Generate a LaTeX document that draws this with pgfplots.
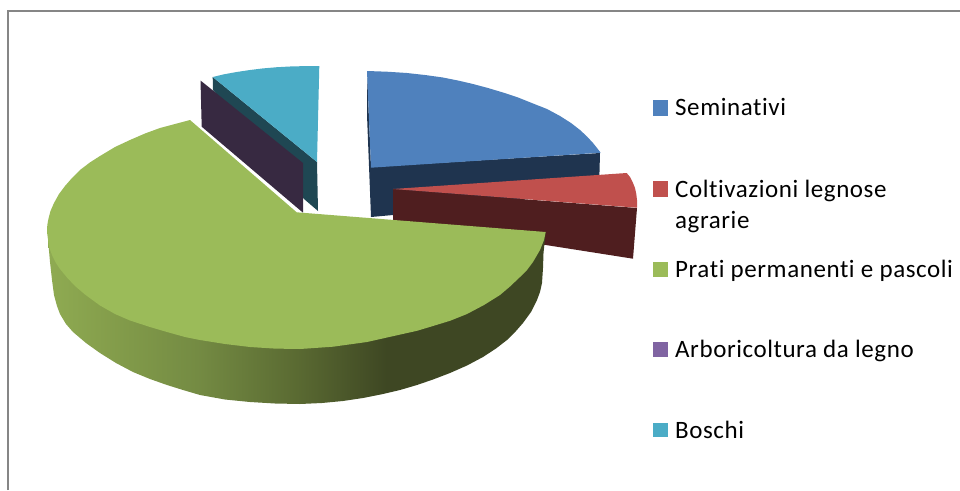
\documentclass[border=0pt]{standalone}
\usepackage{fontspec}
\setmainfont[LetterSpace=2.3,Ligatures=NoCommon]{Carlito}
\usepackage{pgfplots}
\pgfplotsset{compat=1.18}
\definecolor{cblue}{HTML}{4F81BD}
\definecolor{cblued}{HTML}{1F344F}
\definecolor{cred}{HTML}{C0504D}
\definecolor{credd}{HTML}{4F1E1F}
\definecolor{cgreen}{HTML}{9BBB59}
\definecolor{cpurple}{HTML}{8064A2}
\definecolor{cpurpled}{HTML}{372941}
\definecolor{cteal}{HTML}{4BACC6}
\definecolor{cteald}{HTML}{1F4753}
\definecolor{cframe}{HTML}{868686}
\definecolor{gs0}{HTML}{8FAB52}
\definecolor{gs1}{HTML}{86A04C}
\definecolor{gs2}{HTML}{748B43}
\definecolor{gs3}{HTML}{5A6A32}
\definecolor{gs4}{HTML}{3E4723}
\pgfdeclarehorizontalshading{greenside}{100bp}{
  color(0bp)=(gs0);
  color(25bp)=(gs0);
  color(30bp)=(gs1);
  color(40bp)=(gs2);
  color(50bp)=(gs3);
  color(59bp)=(gs4);
  color(100bp)=(gs4)}
\begin{document}
\begin{tikzpicture}
\begin{axis}[
  scale only axis, width=960pt, height=490pt,
  xmin=0, xmax=960, ymin=0, ymax=490, y dir=reverse,
  hide axis, clip=true]
% page extent
\addplot[draw=none] coordinates {(0,0) (960,490)};
% frame
\addplot[cframe, line width=2pt] coordinates {(8,490) (8,11) (960,11)};
% Boschi
\addplot[fill=cteald, draw=none] coordinates {(212.7,77) (317,162) (318,211) (304,199) (213,90)};
\addplot[fill=cteal, draw=none] coordinates {(212.7,77) (224,74.3) (236.7,72) (250,70) (263,68.4) (277,67.2) (290,66.5) (305,66.1) (319.3,66) (317,162)};
% Arboricoltura
\addplot[fill=cpurpled, draw=none] coordinates {(200.5,80.5) (303,163) (303,212.7) (201.7,126.7)};
% Seminativi
\addplot[fill=cblued, draw=none] coordinates {(367,72) (371,167) (600,153) (599,190) (393,215) (371,217) (367,115)};
\addplot[fill=cblue, draw=none] coordinates {(367,71) (387,71.7) (407,73) (425,75) (443,77.5) (458,80.5) (473,84) (488,88) (503,92.5) (518,97.5) (533,103.5) (547,109) (560,116) (571,123) (580,130) (587,136.5) (593,143) (597,148) (600.7,152.7) (371,167.7)};
% Coltivazioni
\addplot[fill=credd, draw=none] coordinates {(393,189) (637,208) (633,258.7) (393,221)};
\addplot[fill=cred, draw=none] coordinates {(393,189) (626.7,173) (630,177) (633,183) (635,188) (636.3,194) (637,200) (637,207.7)};
% Prati: side
\addplot[shade, shading=greenside, draw=none] coordinates {(48,232) (48.5,245) (50,262) (52,280) (54,295) (57,306) (60,314) (66,324) (73,332) (86,343) (100,353) (116,363) (133,372) (150,379) (167,385) (183,390) (200,395) (225,399.5) (250,402) (275,403.5) (300,404) (322,403) (343,401) (363,398) (383,394) (400,390) (417,385) (433,379.5) (450,373) (467,365.5) (483,357) (496,348.5) (507,340) (516,331) (523,323) (531,312) (537,300) (540,292) (542,283) (543,268) (543.5,253) (545.7,232)};
% Prati: top
\addplot[fill=cgreen, draw=none] coordinates {(296.7,212.3) (190,120) (175,124) (160,128) (145,133.5) (130,140) (115,147) (100,156) (90,162.4) (80,170) (72,178) (65,186) (59,194) (54,203) (50.5,211) (48.5,218.5) (47.3,225) (47,232) (49,246.7) (52,255) (56,263) (60,269) (67,277.5) (75,286) (85,294.5) (100,305.5) (115,314) (130,320.5) (150,327) (167,332) (185,337) (200,340) (225,344) (250,347) (275,348.6) (300,349) (333,346.7) (367,342) (400,334.6) (417,330.8) (433,326) (450,320.8) (467,314) (484,305) (500,295) (510,286.5) (520,277) (527,270) (533,262) (540,250) (544,240) (545.7,232)};
% legend
\addplot[fill=cblue, draw=none] coordinates {(653,100) (668,100) (668,116) (653,116)};
\addplot[fill=cred, draw=none] coordinates {(653,181) (668,181) (668,197) (653,197)};
\addplot[fill=cgreen, draw=none] coordinates {(653,262) (668,262) (668,277) (653,277)};
\addplot[fill=cpurple, draw=none] coordinates {(653,342) (668,342) (668,357) (653,357)};
\addplot[fill=cteal, draw=none] coordinates {(653,423) (668,423) (668,437) (653,437)};
\node[anchor=base west, inner sep=0pt, font=\fontsize{25}{25}\selectfont] at (axis cs:675,115) {Seminativi};
\node[anchor=base west, inner sep=0pt, font=\fontsize{25}{25}\selectfont] at (axis cs:675,197) {Coltivazioni legnose};
\node[anchor=base west, inner sep=0pt, font=\fontsize{25}{25}\selectfont] at (axis cs:675,228) {agrarie};
\node[anchor=base west, inner sep=0pt, font=\fontsize{25}{25}\selectfont] at (axis cs:675,277) {Prati permanenti e pascoli};
\node[anchor=base west, inner sep=0pt, font=\fontsize{25}{25}\selectfont] at (axis cs:675,357) {Arboricoltura da legno};
\node[anchor=base west, inner sep=0pt, font=\fontsize{25}{25}\selectfont] at (axis cs:675,438) {Boschi};
\end{axis}
\end{tikzpicture}
\end{document}
